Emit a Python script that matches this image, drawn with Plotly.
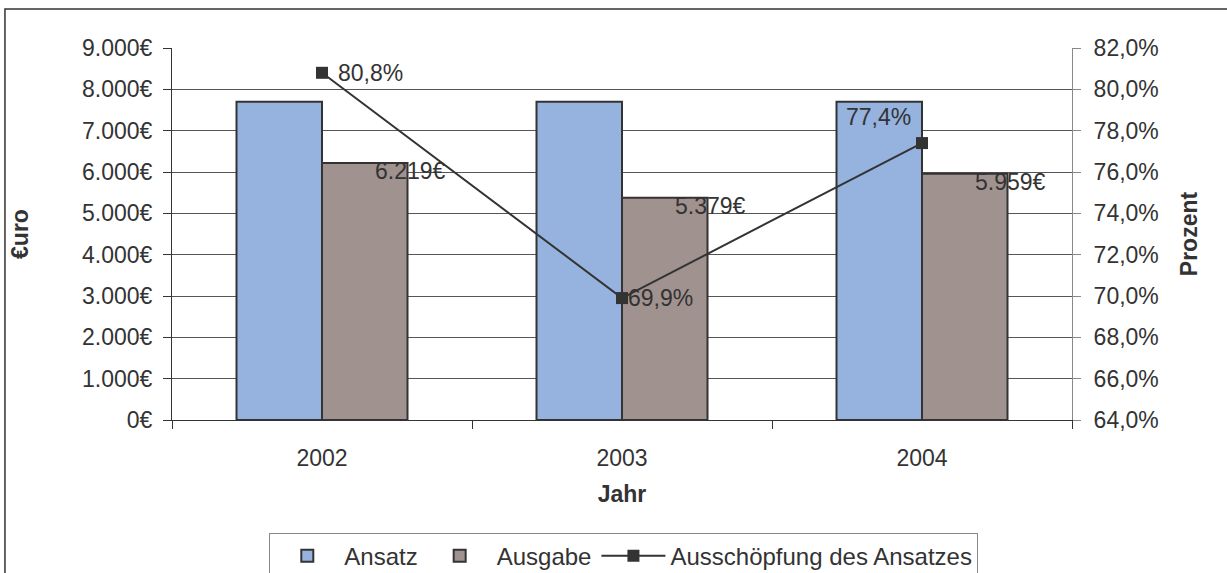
import plotly.graph_objects as go

years = ["2002", "2003", "2004"]
ansatz = [7697, 7697, 7697]
ausgabe = [6219, 5379, 5959]
quote = [80.8, 69.9, 77.4]

FONT = "Liberation Sans, Arial, sans-serif"
TXT = "#333333"
FS = 23

def eur(v):
    return f"{v:,.0f}".replace(",", ".") + "€"

def pct(v):
    return f"{v:.1f}".replace(".", ",") + "%"

fig = go.Figure()
fig.add_trace(go.Bar(x=years, y=ansatz, name="Ansatz",
                     marker=dict(color="#95B3DE", line=dict(color="#333333", width=2))))
fig.add_trace(go.Bar(x=years, y=ausgabe, name="Ausgabe",
                     marker=dict(color="#A0928E", line=dict(color="#333333", width=2))))
fig.add_trace(go.Scatter(x=years, y=quote, name="Ausschöpfung des Ansatzes", yaxis="y2",
                         mode="lines+markers",
                         line=dict(color="#333333", width=2),
                         marker=dict(symbol="square", size=12, color="#333333")))

annotations = []
for i, v in enumerate(ausgabe):
    annotations.append(dict(x=i, y=v, xref="x", yref="y", text=eur(v), showarrow=False,
                            xanchor="center", yanchor="middle", xshift=88, yshift=-8,
                            font=dict(family=FONT, size=FS, color=TXT)))
pct_shift = [(14, 0, "left"), (4, 0, "left"), (-44, 26, "center")]
for i, (v, (dx, dy, xa)) in enumerate(zip(quote, pct_shift)):
    annotations.append(dict(x=i, y=v, xref="x", yref="y2", text=pct(v), showarrow=False,
                            xanchor=xa, yanchor="middle", xshift=dx, yshift=dy,
                            font=dict(family=FONT, size=FS, color=TXT)))

fig.update_layout(
    width=1227, height=573,
    margin=dict(l=172, r=155, t=48, b=153, autoexpand=False),
    paper_bgcolor="white", plot_bgcolor="white",
    font=dict(family=FONT, size=FS, color=TXT),
    separators=",.",
    barmode="group", bargap=0.43, bargroupgap=0,
    showlegend=True,
    legend=dict(orientation="h", x=0.502, xanchor="center", y=-0.303, yanchor="top",
                bordercolor="#888888", borderwidth=1, bgcolor="white",
                font=dict(family=FONT, size=24, color=TXT), traceorder="normal",
                itemwidth=64),
    xaxis=dict(type="category", categoryorder="array", categoryarray=years,
               range=[-0.5, 2.5], tickson="boundaries", ticks="outside", ticklen=8,
               tickcolor="#333333", showline=True, linecolor="#333333", linewidth=1,
               showgrid=False, ticklabelstandoff=17,
               title=dict(text="<b>Jahr</b>", standoff=16,
                          font=dict(family=FONT, size=FS, color=TXT))),
    yaxis=dict(range=[0, 9000], dtick=1000, tickformat=",.0f", ticksuffix="€",
               ticks="outside", ticklen=8, tickcolor="#333333",
               showline=True, linecolor="#333333", linewidth=1,
               showgrid=True, gridcolor="#555555", gridwidth=1, zeroline=False,
               ticklabelstandoff=6,
               title=dict(text="<b>€uro</b>", standoff=46,
                          font=dict(family=FONT, size=FS, color=TXT))),
    yaxis2=dict(range=[64, 82], dtick=2, tickformat=".1f", ticksuffix="%",
                overlaying="y", side="right", ticks="outside", ticklen=8,
                tickcolor="#888888", showline=True, linecolor="#888888", linewidth=1,
                showgrid=False, zeroline=False, ticklabelstandoff=8,
                title=dict(text="<b>Prozent</b>", standoff=23,
                           font=dict(family=FONT, size=FS, color=TXT))),
    annotations=annotations,
    shapes=[dict(type="rect", xref="paper", yref="paper",
                 x0=-0.1856, x1=1.25, y0=-0.6, y1=1.1048,
                 line=dict(color="#333333", width=1.5), layer="below")],
)

fig.write_html("out.html", config={"displayModeBar": False},
               post_script="document.body.style.margin='0';")
